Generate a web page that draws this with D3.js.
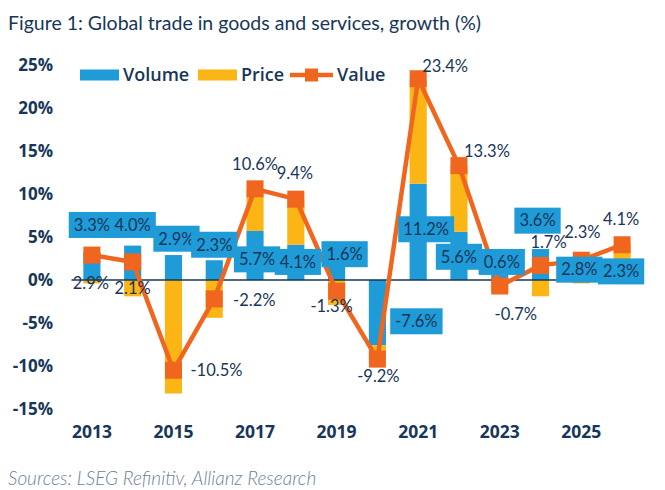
<!DOCTYPE html>
<html><head><meta charset="utf-8">
<script src="https://cdn.jsdelivr.net/npm/d3@7"></script>
<style>
html,body{margin:0;padding:0;background:#fff;}
svg{display:block;font-family:Lato,"Open Sans",sans-serif;}
</style></head>
<body><svg id="c" width="665" height="490"></svg>
<script>
// ---- data ----
const years  = [2013,2014,2015,2016,2017,2018,2019,2020,2021,2022,2023,2024,2025,2026];
const volume = [3.3, 4.0, 2.9, 2.3, 5.7, 4.1, 1.6, -7.6, 11.2, 5.6, 0.6, 3.6, 2.8, 2.3];
const price  = [-0.4,-1.9,-13.2,-4.4, 4.9, 5.3,-2.9, -1.6, 12.2, 7.7,-1.3,-1.9,-0.4, 1.8];
const value  = [2.9, 2.1,-10.5,-2.2,10.6, 9.4,-1.3, -9.2, 23.4,13.3,-0.7, 1.7, 2.3, 4.1];
const yTicks = [-15,-10,-5,0,5,10,15,20,25];
const xTickYears = [2013,2015,2017,2019,2021,2023,2025];
const seriesNames = ["Volume","Price","Value"];
const title = "Figure 1: Global trade in goods and services, growth (%)";
const source = "Sources: LSEG Refinitiv, Allianz Research";

// ---- label placement (value-space anchor, pixel x shift) ----
const volLabelY  = [6.4,6.4,4.8,4.1,2.4,2.1,3.0,-4.8,5.9,2.7,2.1,6.9,1.2,1.0];
const volLabelDx = [0,0,3,0,2,2,8,39,8,0,2,-3,-2,-1];
const valLabelY  = [-0.35,-0.9,-10.5,-2.4,13.5,12.4,-3.1,-11.2,24.9,15.0,-4.0,4.4,5.5,7.1];
const valLabelDx = [-1,0,43,40,0,-1,-5,1,27,28,16,8,1,-1];

const C = {blue:"#1f9bd7", yellow:"#fbb616", orange:"#f0661e", navy:"#17365a", src:"#6d7f98"};

const svg = d3.select("#c");
const x = d3.scaleBand().domain(years).range([71.5,642.5]).paddingInner(0.58).paddingOuter(0.29);
const y = d3.scaleLinear().domain([-15,25]).range([409,65]);

svg.append("text").attr("x",8).attr("y",30).attr("fill",C.navy)
  .style("font-size","19.5px").text(title);

// y axis labels
const ya = svg.append("g").attr("transform","translate(53,0)")
  .call(d3.axisLeft(y).tickValues(yTicks).tickSize(0).tickPadding(0).tickFormat(d=>d+"%"));
ya.select(".domain").remove();
ya.selectAll("text").attr("fill",C.navy).style("font-size","17px").style("font-weight","700")
  .style("font-family","'Open Sans',sans-serif");

// x axis labels
const xa = svg.append("g").attr("transform","translate(0,426)")
  .call(d3.axisBottom(x).tickValues(xTickYears).tickSize(0).tickPadding(0));
xa.select(".domain").remove();
xa.selectAll("text").attr("fill",C.navy).style("font-size","17.5px").style("font-weight","700")
  .style("font-family","'Open Sans',sans-serif");

// stacked bars
const rows = years.map((yr,i)=>({yr,vol:volume[i],pr:price[i]}));
function segs(r){
  let pos=0,neg=0; const out=[];
  [["vol",C.blue],["pr",C.yellow]].forEach(([k,col])=>{
    const v=r[k]; let a,b;
    if(v>=0){a=pos;b=pos+v;pos=b;}else{a=neg;b=neg+v;neg=b;}
    out.push({yr:r.yr,a,b,col});
  });
  return out;
}
svg.append("g").selectAll("rect").data(rows.flatMap(segs)).join("rect")
  .attr("x",d=>x(d.yr)).attr("width",x.bandwidth())
  .attr("y",d=>y(Math.max(d.a,d.b))).attr("height",d=>Math.abs(y(d.a)-y(d.b)))
  .attr("fill",d=>d.col);

// zero line
svg.append("line").attr("x1",x.range()[0]).attr("x2",x.range()[1])
  .attr("y1",y(0)).attr("y2",y(0)).attr("stroke",C.navy).attr("stroke-width",1.5);

// value line
const cx = yr=>x(yr)+x.bandwidth()/2;
svg.append("path").datum(years.map((yr,i)=>[yr,value[i]]))
  .attr("fill","none").attr("stroke",C.orange).attr("stroke-width",4.5).attr("stroke-linejoin","round")
  .attr("d",d3.line().x(d=>cx(d[0])).y(d=>y(d[1])));
const ms=17;
svg.append("g").selectAll("rect").data(years.map((yr,i)=>[yr,value[i]])).join("rect")
  .attr("x",d=>cx(d[0])-ms/2).attr("y",d=>y(d[1])-ms/2).attr("width",ms).attr("height",ms)
  .attr("fill",C.orange);

// value labels
svg.append("g").selectAll("text").data(years.map((yr,i)=>i)).join("text")
  .attr("x",i=>cx(years[i])+valLabelDx[i]).attr("y",i=>y(valLabelY[i]))
  .attr("dy","0.35em").attr("text-anchor","middle").attr("fill",C.navy)
  .style("font-size","16.5px").text(i=>value[i].toFixed(1)+"%");

// volume labels (boxed)
const vg = svg.append("g").selectAll("g").data(years.map((yr,i)=>i)).join("g")
  .attr("transform",i=>`translate(${cx(years[i])+volLabelDx[i]},${y(volLabelY[i])})`);
vg.append("rect").attr("fill",C.blue);
vg.append("text").attr("text-anchor","middle").attr("dy","0.35em").attr("fill",C.navy)
  .style("font-size","16.5px").text(i=>volume[i].toFixed(1)+"%");
vg.each(function(){
  const g=d3.select(this); const bb=g.select("text").node().getBBox();
  const w=bb.width+10, h=26;
  g.select("rect").attr("x",-w/2).attr("y",-h/2).attr("width",w).attr("height",h);
});

// legend
const lg = svg.append("g").attr("transform","translate(80,75)");
const items=[{n:seriesNames[0],t:"bar",c:C.blue,x:0},{n:seriesNames[1],t:"bar",c:C.yellow,x:118},{n:seriesNames[2],t:"line",c:C.orange,x:210}];
items.forEach(it=>{
  const g=lg.append("g").attr("transform",`translate(${it.x},0)`);
  if(it.t==="bar"){
    g.append("rect").attr("x",0).attr("y",-5.5).attr("width",39).attr("height",11).attr("fill",it.c);
  } else {
    g.append("line").attr("x1",0).attr("x2",43).attr("y1",0).attr("y2",0).attr("stroke",it.c).attr("stroke-width",4.5);
    g.append("rect").attr("x",21.5-6.5).attr("y",-6.5).attr("width",13).attr("height",13).attr("fill",it.c);
  }
  g.append("text").attr("x",it.t==="bar"?43:47).attr("dy","0.35em").attr("fill",C.navy)
    .style("font-size","18px").style("font-weight","600").style("font-family","'Open Sans',sans-serif").text(it.n);
});

svg.append("text").attr("x",8).attr("y",485).attr("fill",C.src)
  .style("font-size","19px").style("font-style","italic").style("font-weight","300").text(source);
</script></body></html>
